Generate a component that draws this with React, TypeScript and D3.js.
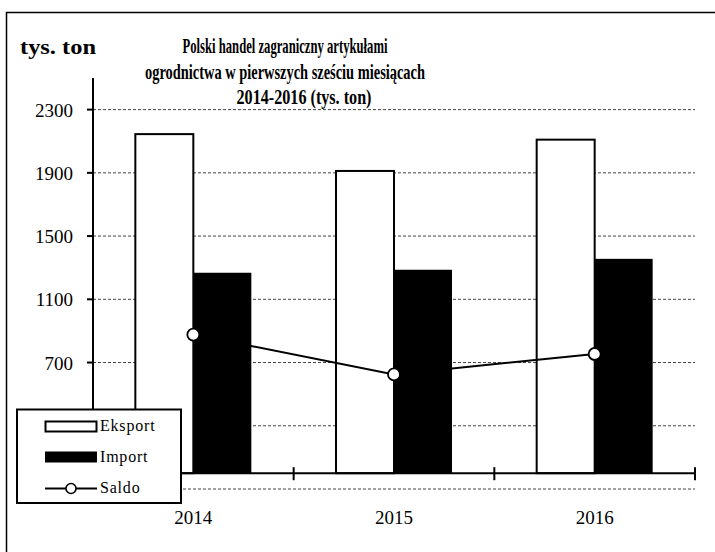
import * as d3 from 'd3';

const YEARS = ['2014', '2015', '2016'];
const EKSPORT = [2145, 1912, 2110];
const IMPORT = [1268, 1287, 1356];
const SALDO = [877, 625, 754];
const Y_TICKS = [-100, 300, 700, 1100, 1500, 1900, 2300];
const TITLE = [
  'Polski handel zagraniczny artykułami',
  'ogrodnictwa w  pierwszych sześciu miesiącach',
  '2014-2016  (tys. ton)',
];

const W = 715, H = 552;
const M = { left: 93, right: 695, top: 78, bottom: 489 };
const SERIF = 'Times New Roman, Liberation Serif, DejaVu Serif, serif';

export default function App() {
  const x = d3.scaleBand().domain(YEARS).range([M.left, M.right]).padding(0);
  const xi = d3.scaleBand().domain(['e', 'i']).range([0, x.bandwidth()]).paddingInner(0).paddingOuter(0.73);
  const y = d3.scaleLinear().domain([-100, 2500]).range([M.bottom, M.top]);
  const y0 = y(0);
  const line = d3.line<number>().x((_, i) => x(YEARS[i])! + x.bandwidth() / 2).y(d => y(d));
  const bounds = [...YEARS.map(d => x(d)!), M.right];

  return (
    <svg width={W} height={H} fontFamily={SERIF} style={{ position: 'absolute', left: 0, top: 0, background: '#fff' }}>
      <rect width={W} height={H} fill="#fff" />
      <path d={`M6.5,${H} V12.5 H${W}`} fill="none" stroke="#000" strokeWidth={1.5} />

      {Y_TICKS.map(t => (
        <line key={t} x1={M.left} x2={M.right} y1={y(t)} y2={y(t)} stroke="#444" strokeWidth={1} strokeDasharray="3,2" />
      ))}

      {YEARS.map((yr, i) => (
        <g key={yr} transform={`translate(${x(yr)},0)`}>
          <rect x={xi('e')} width={xi.bandwidth()} y={y(EKSPORT[i])} height={y0 - y(EKSPORT[i])}
            fill="#fff" stroke="#000" strokeWidth={2} />
          <rect x={xi('i')} width={xi.bandwidth()} y={y(IMPORT[i])} height={y0 - y(IMPORT[i])} fill="#000" />
        </g>
      ))}

      <line x1={M.left} x2={M.left} y1={M.top} y2={M.bottom} stroke="#000" strokeWidth={2} />
      {Y_TICKS.map(t => (
        <g key={t}>
          <line x1={M.left - 6} x2={M.left} y1={y(t)} y2={y(t)} stroke="#000" strokeWidth={2} />
          <text x={73} y={y(t) + 7} textAnchor="end" fontSize={19}>{t}</text>
        </g>
      ))}

      <line x1={M.left} x2={M.right} y1={y0} y2={y0} stroke="#000" strokeWidth={2} />
      {bounds.map((b, i) => (
        <line key={i} x1={b} x2={b} y1={y0 - 6} y2={y0 + 7} stroke="#000" strokeWidth={2} />
      ))}
      {YEARS.map(yr => (
        <text key={yr} x={x(yr)! + x.bandwidth() / 2} y={524} textAnchor="middle" fontSize={19}>{yr}</text>
      ))}

      <path d={line(SALDO)!} fill="none" stroke="#000" strokeWidth={2} />
      {SALDO.map((v, i) => (
        <circle key={i} cx={x(YEARS[i])! + x.bandwidth() / 2} cy={y(v)} r={6} fill="#fff" stroke="#000" strokeWidth={1.8} />
      ))}

      <text x={20} y={54} fontSize={21} fontWeight="bold" textLength={76} lengthAdjust="spacingAndGlyphs">tys. ton</text>
      {TITLE.map((t, i) => (
        <text key={i} x={i === 2 ? 304 : 285} y={53 + i * 25.5} textAnchor="middle" fontSize={22} fontWeight="bold"
          textLength={[205, 280, 135][i]} lengthAdjust="spacingAndGlyphs">{t}</text>
      ))}

      <g>
        <rect x={17} y={409.5} width={164} height={93.5} fill="#fff" stroke="#000" strokeWidth={2} />
        <rect x={45.5} y={421.5} width={51} height={10} fill="#fff" stroke="#000" strokeWidth={2} />
        <text x={100} y={431} fontSize={16} letterSpacing={0.8}>Eksport</text>
        <rect x={45} y={451.5} width={52} height={11} fill="#000" />
        <text x={100} y={462} fontSize={16} letterSpacing={0.8}>Import</text>
        <line x1={45} x2={97} y1={488.5} y2={488.5} stroke="#000" strokeWidth={2} />
        <circle cx={71} cy={488.5} r={5} fill="#fff" stroke="#000" strokeWidth={1.6} />
        <text x={100} y={493} fontSize={16} letterSpacing={0.8}>Saldo</text>
      </g>
    </svg>
  );
}
